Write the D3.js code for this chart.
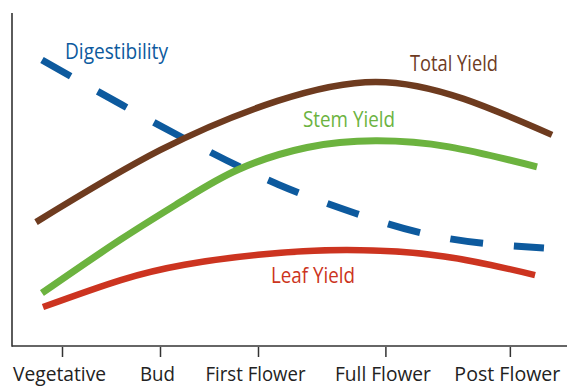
<!DOCTYPE html>
<html><head><meta charset="utf-8">
<script src="https://cdn.jsdelivr.net/npm/d3@7"></script>
<style>html,body{margin:0;padding:0;background:#fff;}svg{display:block;}</style>
</head><body>
<script>
// Stage categories and positions along the x axis (stage units)
const stages = ["Vegetative", "Bud", "First Flower", "Full Flower", "Post Flower"];
const stagePos = [0, 1, 2, 3.3, 4.57];

// Series: x in stage units, y in relative units (0 = axis, 100 = top of axis)
const totalX = [-0.265, 1.0, 2.2, 3.2, 4.1, 5.0];
const totalY = [37.2, 58.8, 73.6, 79.3, 74.2, 63.4];
const stemX = [-0.204, 0.6, 1.25, 1.8, 2.5, 3.2, 3.95, 4.847];
const stemY = [15.9, 32.0, 44.0, 53.0, 59.6, 61.6, 59.8, 53.8];
const leafX = [-0.194, 0.6, 1.25, 2.0, 2.9, 3.9, 4.827];
const leafY = [11.7, 19.8, 24.4, 27.4, 28.8, 26.9, 21.3];
const digX = [-0.204, 0.612, 1.429, 2.2, 3.0, 3.9, 4.918];
const digY = [85.9, 72.4, 59.5, 48.6, 39.8, 32.5, 29.4];

const labels = ["Digestibility", "Total Yield", "Stem Yield", "Leaf Yield"];

const W = 567, H = 386;
const svg = d3.select("body").append("svg").attr("width", W).attr("height", H);

const x = d3.scaleLinear().domain([0, 1]).range([62, 160]);
const y = d3.scaleLinear().domain([0, 100]).range([346, 13]);

const font = "'Open Sans', 'Noto Sans', sans-serif";

// axes
svg.append("line").attr("x1", 12).attr("x2", 12).attr("y1", 13).attr("y2", y(0) + 0.8)
  .attr("stroke", "#333").attr("stroke-width", 1.6);
svg.append("line").attr("x1", 12).attr("x2", W).attr("y1", y(0)).attr("y2", y(0))
  .attr("stroke", "#333").attr("stroke-width", 1.6);

const tickW = [93, 35, 100, 96, 106];
const xAxis = d3.axisBottom(x).tickValues(stagePos).tickSize(10).tickSizeOuter(0)
  .tickFormat((d, i) => stages[i]);
const gx = svg.append("g").attr("transform", `translate(0,${y(0) + 1})`).call(xAxis);
gx.select(".domain").remove();
gx.selectAll(".tick line").attr("stroke", "#333").attr("stroke-width", 1.5);
gx.selectAll(".tick text").attr("font-family", font).attr("font-size", 20.5)
  .attr("fill", "#222").attr("dy", 0).attr("y", 34).attr("x", -3)
  .attr("textLength", (d, i) => tickW[i]).attr("lengthAdjust", "spacingAndGlyphs");

const line = d3.line().x(d => x(d[0])).y(d => y(d[1])).curve(d3.curveNatural);
const z = (a, b) => a.map((v, i) => [v, b[i]]);

// digestibility (dashed) underneath the yield curves
svg.append("path").attr("d", line(z(digX, digY))).attr("fill", "none")
  .attr("stroke", "#0d5a9e").attr("stroke-width", 7).attr("stroke-dasharray", "33,31");

const series = [
  {xs: totalX, ys: totalY, color: "#6e3b1f", w: 6.5},
  {xs: stemX, ys: stemY, color: "#6cb33f", w: 7},
  {xs: leafX, ys: leafY, color: "#cc3420", w: 6.5},
];
series.forEach(s => {
  svg.append("path").attr("d", line(z(s.xs, s.ys))).attr("fill", "none")
    .attr("stroke", s.color).attr("stroke-width", s.w);
});

const lab = [
  {t: labels[0], x: 116.5, y: 59, c: "#0d5a9e", w: 103},
  {t: labels[1], x: 454, y: 71, c: "#6e3b1f", w: 88},
  {t: labels[2], x: 349, y: 127, c: "#6cb33f", w: 92},
  {t: labels[3], x: 313, y: 283, c: "#cc3420", w: 84},
];
lab.forEach(l => {
  svg.append("text").attr("x", l.x).attr("y", l.y).attr("text-anchor", "middle")
    .attr("font-family", font).attr("font-size", 21).attr("fill", l.c)
    .attr("textLength", l.w).attr("lengthAdjust", "spacingAndGlyphs").text(l.t);
});
</script>
</body></html>
